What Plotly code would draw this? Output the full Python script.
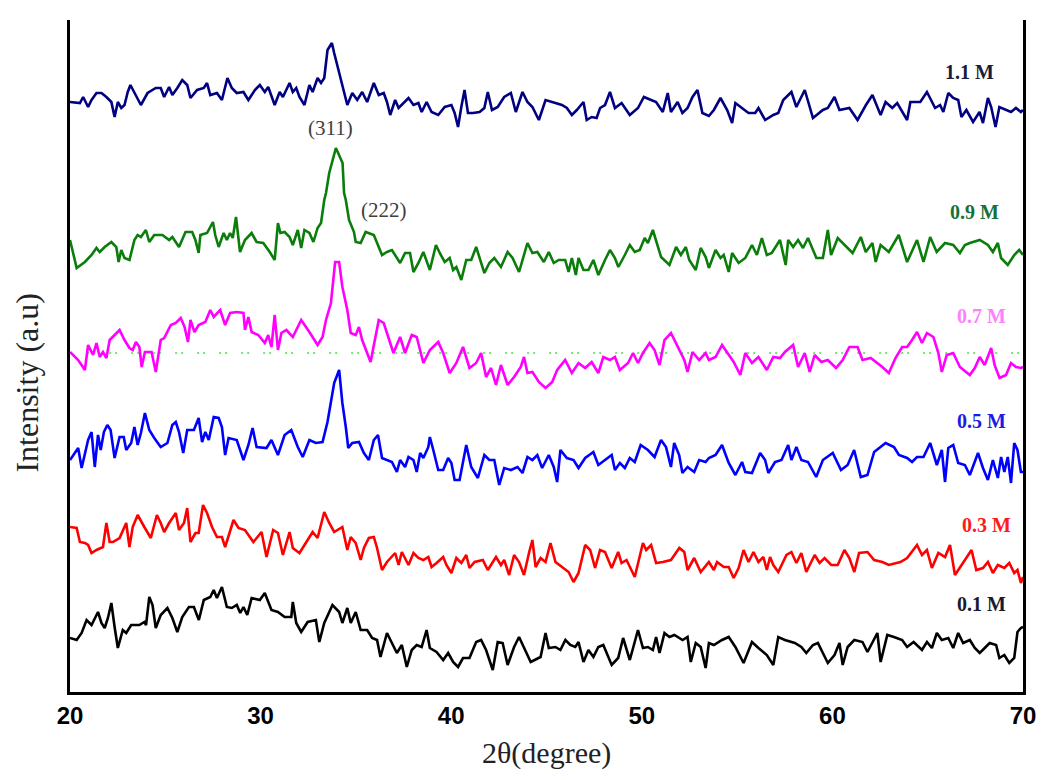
import plotly.graph_objects as go

# ---- data: (2theta, intensity a.u.) vertices ----
pattern_1_1M = [
(20.00,590),(20.52,589),(20.69,595),(20.95,585),(21.13,592),(21.39,599),(21.65,599),(21.91,595),(22.17,590),(22.34,575),(22.51,590),(22.69,584),(22.86,587),(23.03,600),(23.17,607),(23.38,599),(23.72,587),(24.07,599),(24.50,604),(24.76,604),(24.94,595),(25.20,605),(25.37,597),(25.63,604),(25.89,612),(26.15,607),(26.32,594),(26.67,602),(27.02,604),(27.19,609),(27.36,597),(27.71,599),(27.97,592),(28.26,614),(28.49,604),(28.75,599),(29.10,600),(29.36,592),(29.70,602),(29.96,607),(30.22,600),(30.40,605),(30.74,587),(31.00,600),(31.17,595),(31.52,609),(31.69,600),(31.87,604),(32.04,595),(32.30,587),(32.56,607),(32.73,600),(32.99,614),(33.17,609),(33.34,614),(33.51,642),(33.74,649),(33.86,639),(34.12,619),(34.38,599),(34.55,587),(34.81,599),(35.07,592),(35.33,600),(35.59,590),(35.94,609),(36.20,597),(36.46,599),
(36.63,590),(36.80,577),(37.06,592),(37.24,584),(37.41,587),(37.76,594),(38.02,587),(38.28,589),(38.45,580),(38.71,590),(38.97,580),(39.32,577),(39.66,585),(40.01,587),(40.18,579),(40.36,565),(40.53,585),(40.70,602),(40.88,579),(41.14,579),(41.49,580),(41.74,584),(41.92,600),(42.14,582),(42.44,585),(42.78,595),(43.13,599),(43.39,580),(43.74,600),(44.00,590),(44.26,585),(44.60,572),(44.95,592),(45.30,590),(45.81,587),(46.07,584),(46.33,577),(46.59,582),(46.94,590),(47.11,572),(47.37,575),(47.63,574),(47.81,584),(48.07,587),(48.33,600),(48.59,584),(48.94,589),(49.37,577),(49.80,584),(50.11,595),(50.49,592),(50.75,590),(51.10,580),(51.36,599),(51.53,580),(51.88,590),(52.13,579),(52.40,584),(52.66,595),(52.92,602),(53.18,579),
(53.52,576),(53.78,582),(54.13,594),(54.48,582),(54.74,569),(54.91,589),(55.26,584),(55.60,579),(55.95,579),(56.12,584),(56.47,572),(56.90,577),(57.16,579),(57.42,592),(57.85,600),(58.11,585),(58.55,602),(58.98,574),(59.50,582),(59.76,584),(60.11,595),(60.37,582),(60.89,584),(61.32,572),(61.76,587),(62.10,597),(62.53,577),(62.79,590),(63.14,584),(63.40,589),(63.92,572),(64.09,590),(64.61,590),(64.96,600),(65.39,584),(65.65,587),(65.82,580),(66.08,599),(66.34,594),(66.60,592),(66.77,575),(67.03,582),(67.38,570),(67.72,580),(67.90,569),(68.16,594),(68.33,585),(68.56,565),(68.76,585),(69.11,582),(69.37,580),(69.63,584),(69.89,580),(70.00,582)]

pattern_0_9M = [
(20.00,452),(20.35,424),(20.78,430),(21.13,437),(21.39,444),(21.56,440),(21.82,445),(22.17,450),(22.43,445),(22.55,430),(22.69,442),(22.86,434),(23.12,432),(23.38,452),(23.55,457),(23.72,455),(23.98,462),(24.16,450),(24.42,457),(24.85,457),(25.20,452),(25.37,455),(25.72,445),(26.06,460),(26.41,460),(26.58,452),(26.75,439),(26.84,457),(27.19,459),(27.50,470),(27.62,457),(27.80,445),(28.06,459),(28.23,452),(28.40,459),(28.54,454),(28.71,475),(28.84,455),(28.92,440),(29.18,452),(29.53,459),(29.79,450),(30.14,449),(30.48,440),(30.74,432),(30.91,469),(31.04,459),(31.26,460),(31.52,455),(31.69,447),(31.95,462),(32.13,444),(32.30,462),(32.56,459),(32.77,450),(32.99,464),(33.17,469),(33.34,492),(33.43,499),(33.60,519),(33.95,544),(34.30,529),(34.38,499),(34.47,492),(34.64,472),(34.90,460),(34.99,450),(35.25,449),(35.51,460),(35.94,457),(36.20,444),(36.37,437),
(36.63,440),(36.89,442),(37.32,429),(37.58,439),(37.84,439),(38.02,420),(38.28,429),(38.54,440),(38.88,422),(39.20,447),(39.40,439),(39.66,430),(39.92,434),(40.10,422),(40.27,425),(40.53,412),(40.79,432),(41.05,432),(41.31,445),(41.49,434),(41.74,419),(42.00,429),(42.26,434),(42.61,425),(42.96,440),(43.22,434),(43.56,420),(44.00,449),(44.26,439),(44.52,440),(44.86,430),(45.12,440),(45.38,429),(45.64,432),(45.98,432),(46.16,420),(46.33,434),(46.54,417),(46.68,434),(46.94,422),(47.20,422),(47.46,432),(47.72,417),(48.07,432),(48.33,442),(48.59,434),(48.77,425),(49.11,437),(49.37,447),(49.63,440),(49.89,442),(50.15,454),(50.32,449),(50.58,462),(50.75,452),(51.01,435),(51.45,427),(51.80,445),(52.05,437),(52.31,445),(52.49,432),(52.83,422),(53.09,444),(53.35,435),
(53.52,424),(53.87,442),(54.13,434),(54.30,437),(54.56,420),(54.74,439),(55.08,429),(55.43,434),(55.78,447),(56.04,437),(56.30,454),(56.56,437),(56.82,439),(57.25,452),(57.55,427),(57.68,452),(57.94,445),(58.20,452),(58.46,444),(58.72,454),(59.16,434),(59.50,434),(59.76,462),(59.93,437),(60.28,454),(60.63,447),(61.06,439),(61.49,455),(61.75,440),(62.10,449),(62.27,430),(62.53,447),(62.96,440),(63.48,457),(63.92,430),(64.44,452),(64.78,430),(65.13,455),(65.47,440),(65.91,449),(66.34,447),(66.69,439),(66.95,447),(67.21,449),(67.73,452),(68.16,447),(68.42,440),(68.68,449),(68.85,434),(69.20,427),(69.54,437),(69.80,442),(70.00,437)]

pattern_0_7M = [
(20.00,340),(20.43,332),(20.78,322),(20.95,347),(21.21,337),(21.39,349),(21.56,335),(21.73,340),(21.91,334),(22.08,352),(22.34,357),(22.60,362),(22.86,352),(23.12,344),(23.29,342),(23.46,350),(23.64,345),(23.76,325),(23.93,340),(24.28,340),(24.50,320),(24.76,352),(24.94,354),(25.29,367),(25.55,369),(25.81,374),(26.01,365),(26.19,350),(26.32,372),(26.53,360),(26.75,367),(27.10,370),(27.36,382),(27.54,375),(27.88,382),(28.14,367),(28.40,379),(28.75,380),(29.10,379),(29.18,362),(29.36,375),(29.53,360),(29.88,357),(30.22,349),(30.40,357),(30.57,345),(30.74,377),(30.91,342),(31.09,359),(31.35,362),(31.69,355),(32.13,372),(32.56,360),(32.99,347),(33.25,355),(33.43,372),(33.69,389),(33.91,430),(34.12,430),(34.29,405),(34.55,382),(34.73,359),(34.99,357),(35.16,365),(35.33,352),(35.77,330),(36.20,372),(36.46,369),
(36.63,359),(36.97,339),(37.32,355),(37.58,339),(37.93,357),(38.19,355),(38.54,329),(38.88,342),(39.32,350),(39.58,339),(39.92,319),(40.27,329),(40.62,345),(40.96,324),(41.31,329),(41.57,339),(41.83,315),(42.09,324),(42.35,307),(42.61,327),(42.96,307),(43.30,315),(43.65,325),(43.82,335),(44.00,319),(44.26,320),(44.60,310),(44.95,304),(45.30,310),(45.56,322),(45.98,332),(46.33,319),(46.68,329),(47.03,324),(47.37,330),(47.72,319),(47.98,335),(48.33,332),(48.59,335),(48.85,322),(49.28,329),(49.54,339),(49.80,329),(50.06,339),(50.41,349),(50.67,342),(50.93,327),(51.19,352),(51.53,359),(51.88,345),(52.23,332),(52.40,320),(52.66,340),(53.01,332),(53.35,339),
(53.52,332),(53.87,335),(54.21,347),(54.47,340),(54.82,330),(55.17,317),(55.43,339),(55.78,329),(56.12,335),(56.56,322),(56.90,335),(57.25,334),(57.51,340),(57.94,347),(58.20,325),(58.55,339),(58.81,320),(59.07,337),(59.42,330),(59.76,332),(60.19,324),(60.54,332),(60.89,345),(61.32,345),(61.58,332),(62.01,334),(62.36,329),(62.62,325),(62.96,319),(63.31,334),(63.66,345),(63.92,345),(64.18,352),(64.44,360),(64.70,349),(64.96,359),(65.30,355),(65.56,339),(65.74,320),(66.00,337),(66.34,339),(66.69,325),(67.21,317),(67.47,324),(67.73,335),(67.99,327),(68.33,344),(68.51,327),(68.77,314),(69.11,317),(69.37,329),(69.63,325),(69.89,324),(70.00,325)]

pattern_0_5M = [
(20.00,232),(20.26,240),(20.43,244),(20.61,224),(20.78,237),(20.95,252),(21.13,260),(21.30,225),(21.47,257),(21.61,242),(21.78,260),(21.96,267),(22.13,262),(22.34,234),(22.60,255),(22.82,255),(22.95,242),(23.21,249),(23.38,265),(23.55,247),(23.72,259),(23.93,279),(24.16,262),(24.42,254),(24.76,245),(25.11,249),(25.37,267),(25.55,270),(25.72,260),(25.94,239),(26.15,262),(26.50,262),(26.75,274),(26.93,250),(27.10,260),(27.28,252),(27.54,275),(27.80,274),(27.97,265),(28.14,237),(28.32,254),(28.75,252),(29.10,232),(29.36,247),(29.58,264),(29.79,245),(30.31,244),(30.57,252),(30.91,237),(31.26,257),(31.61,262),(31.95,245),(32.21,235),(32.56,252),(32.90,249),(33.25,250),(33.51,270),(33.86,309),(34.12,322),(34.29,289),(34.47,265),(34.60,244),(34.81,249),(35.16,250),(35.42,239),(35.68,232),(35.94,252),(36.16,257),(36.37,234),
(36.63,232),(36.89,230),(37.15,220),(37.32,232),(37.58,225),(37.76,235),(38.02,232),(38.19,220),(38.37,239),(38.54,234),(38.80,245),(38.88,255),(39.06,242),(39.32,222),(39.58,222),(39.84,234),(40.01,229),(40.18,212),(40.44,212),(40.79,247),(41.05,225),(41.40,214),(41.74,237),(42.00,232),(42.26,232),(42.52,207),(42.78,224),(43.13,222),(43.48,225),(43.74,219),(44.00,235),(44.26,232),(44.52,237),(44.77,224),(45.12,237),(45.38,225),(45.56,210),(45.73,242),(46.07,234),(46.42,232),(46.68,224),(47.03,234),(47.46,240),(47.72,227),(48.07,232),(48.42,237),(48.59,222),(48.85,229),(49.11,224),(49.37,234),(49.63,230),(49.94,247),(50.32,242),(50.67,235),(51.01,252),(51.27,245),(51.53,225),(51.70,249),(51.96,237),(52.13,219),(52.40,225),(52.75,220),(53.01,232),(53.35,230),
(53.52,234),(53.87,237),(54.21,247),(54.56,229),(54.91,217),(55.26,230),(55.43,220),(55.78,219),(56.21,239),(56.47,232),(56.64,219),(56.99,230),(57.33,232),(57.68,247),(57.85,232),(58.11,245),(58.37,232),(58.72,230),(59.15,215),(59.50,232),(60.02,239),(60.45,222),(60.80,227),(61.14,242),(61.49,215),(61.84,217),(62.19,240),(62.53,245),(62.79,249),(63.23,245),(63.49,237),(63.92,234),(64.18,230),(64.44,235),(64.78,235),(65.13,249),(65.48,227),(65.74,242),(65.91,210),(66.08,244),(66.34,247),(66.60,229),(66.95,227),(67.21,217),(67.64,239),(67.90,224),(68.16,212),(68.42,232),(68.68,214),(68.85,235),(69.02,220),(69.20,235),(69.37,209),(69.54,249),(69.71,242),(69.89,220),(70.00,220)]

pattern_0_3M = [
(20.00,165),(20.35,164),(20.52,150),(20.78,149),(20.95,147),(21.13,139),(21.39,142),(21.73,145),(21.91,169),(22.08,150),(22.25,150),(22.60,154),(22.95,169),(23.12,145),(23.29,165),(23.55,177),(23.90,165),(24.24,154),(24.56,177),(24.76,169),(24.94,160),(25.20,169),(25.55,179),(25.72,162),(25.98,169),(26.15,184),(26.32,150),(26.58,159),(26.75,159),(26.98,187),(27.19,179),(27.45,165),(27.71,155),(27.97,155),(28.14,145),(28.58,172),(28.84,164),(29.18,162),(29.62,150),(30.05,160),(30.31,135),(30.66,162),(30.91,159),(31.17,137),(31.52,160),(31.69,144),(32.04,139),(32.73,160),(32.99,154),(33.34,180),(33.60,169),(33.86,160),(34.29,165),(34.55,142),(34.73,155),(34.99,149),(35.25,132),(35.42,144),(35.68,154),(35.94,155),(36.11,144),(36.37,122),
(36.63,130),(36.89,135),(37.06,139),(37.24,127),(37.41,140),(37.76,127),(38.02,139),(38.28,134),(38.54,132),(38.80,135),(38.97,125),(39.23,129),(39.58,135),(39.75,127),(40.01,119),(40.27,134),(40.53,129),(40.79,137),(40.96,124),(41.23,130),(41.66,132),(41.92,122),(42.35,135),(42.61,127),(42.78,132),(43.04,117),(43.30,137),(43.56,130),(43.82,117),(44.08,139),(44.26,152),(44.43,125),(44.69,134),(44.95,130),(45.21,149),(45.47,130),(45.82,125),(46.16,120),(46.42,110),(46.68,119),(47.03,147),(47.29,142),(47.55,124),(47.81,142),(48.07,140),(48.42,124),(48.76,140),(48.94,129),(49.20,132),(49.63,115),(50.06,149),(50.23,142),(50.49,147),(50.75,129),(51.10,130),(51.53,132),(51.97,144),(52.23,140),(52.40,122),(52.75,134),(53.09,120),
(53.52,130),(53.78,122),(53.95,130),(54.30,125),(54.56,125),(54.82,114),(55.08,124),(55.34,142),(55.60,130),(55.86,140),(56.12,130),(56.38,135),(56.56,122),(56.73,135),(56.90,127),(57.16,120),(57.59,137),(57.85,140),(58.11,129),(58.37,139),(58.63,120),(59.07,137),(59.33,129),(59.59,134),(59.94,127),(60.28,127),(60.63,142),(60.89,134),(61.15,120),(61.40,139),(61.84,140),(62.19,132),(62.62,130),(62.96,127),(63.57,130),(63.92,134),(64.26,142),(64.44,147),(64.70,137),(64.96,142),(65.22,124),(65.56,139),(65.91,135),(66.17,147),(66.43,117),(66.86,130),(67.30,142),(67.55,122),(67.90,124),(68.16,130),(68.42,119),(68.68,127),(69.02,124),(69.28,129),(69.54,119),(69.71,122),(69.89,109),(70.00,115)]

pattern_0_1M = [
(20.00,54),(20.35,52),(20.61,59),(20.87,72),(21.13,67),(21.47,80),(21.65,69),(21.82,64),(21.99,74),(22.17,89),(22.34,65),(22.51,44),(22.77,62),(22.95,59),(23.21,67),(23.64,67),(23.90,70),(23.99,67),(24.16,95),(24.33,87),(24.50,64),(24.76,77),(25.11,84),(25.37,74),(25.63,60),(25.89,75),(26.24,85),(26.50,85),(26.76,72),(27.02,92),(27.36,95),(27.54,102),(27.71,94),(27.97,105),(28.23,85),(28.49,84),(28.75,87),(28.93,79),(29.10,85),(29.30,77),(29.53,94),(29.96,92),(30.22,99),(30.57,82),(30.91,80),(31.26,75),(31.61,75),(31.69,90),(31.87,69),(32.13,60),(32.47,70),(32.90,72),(33.08,50),(33.34,69),(33.77,87),(34.12,80),(34.29,69),(34.55,84),(34.73,69),(34.99,80),(35.25,62),(35.59,62),(35.85,54),(36.11,52),(36.29,35),(36.46,47),
(36.63,59),(36.89,49),(37.15,39),(37.41,47),(37.67,25),(37.93,42),(38.19,47),(38.45,45),(38.71,62),(38.88,44),(39.23,40),(39.58,32),(39.84,39),(40.10,30),(40.36,25),(40.62,34),(40.96,34),(41.31,50),(41.57,52),(41.83,42),(42.18,22),(42.44,50),(42.70,49),(42.96,27),(43.30,45),(43.56,55),(43.82,45),(44.17,30),(44.69,35),(44.95,59),(45.12,44),(45.47,45),(45.73,42),(45.99,52),(46.25,47),(46.51,45),(46.68,50),(46.94,30),(47.20,42),(47.46,35),(47.72,45),(47.98,47),(48.42,27),(48.76,34),(49.02,54),(49.37,32),(49.80,62),(50.06,44),(50.32,45),(50.58,42),(50.75,55),(50.93,39),(51.19,59),(51.45,55),(51.71,57),(52.14,52),(52.40,55),(52.57,30),(52.83,49),(53.09,45),(53.35,24),
(53.52,49),(53.78,47),(54.21,52),(54.56,55),(54.91,45),(55.34,29),(55.78,50),(56.12,44),(56.56,37),(56.90,27),(57.16,55),(57.51,52),(58.03,49),(58.37,45),(58.63,39),(58.98,47),(59.24,49),(59.50,39),(59.76,29),(60.11,37),(60.37,49),(60.54,27),(60.80,45),(61.15,52),(61.58,50),(61.84,40),(62.36,59),(62.53,30),(62.88,57),(63.23,55),(63.66,52),(63.92,45),(64.26,50),(64.70,42),(64.96,50),(65.22,44),(65.48,59),(65.74,52),(66.08,54),(66.34,44),(66.60,59),(66.86,49),(67.21,52),(67.47,44),(67.73,39),(67.99,44),(68.25,49),(68.59,47),(68.76,34),(69.02,37),(69.28,29),(69.54,34),(69.71,60),(69.89,64),(70.00,65)]

baseline_theta = [20.9, 69.9]
baseline_level = [339, 339]

series_names = ["1.1 M", "0.9 M", "0.7 M", "0.5 M", "0.3 M", "0.1 M"]
series_data = [pattern_1_1M, pattern_0_9M, pattern_0_7M, pattern_0_5M, pattern_0_3M, pattern_0_1M]
line_colors = ["#000080", "#0a7d0a", "#ff00ff", "#0000ff", "#ff0000", "#000000"]
label_colors = ["#1b1b3a", "#17703a", "#ff80ff", "#1c1ce6", "#ff1a1a", "#1a1a2a"]
label_theta = [67.2, 67.45, 67.8, 67.8, 68.1, 67.8]
label_level = [620, 480, 376, 271, 167, 88]

hkl_labels = ["(311)", "(222)"]
hkl_theta = [33.67, 36.48]
hkl_level = [564, 482]

tick_vals = [20, 30, 40, 50, 60, 70]

fig = go.Figure()

fig.add_trace(go.Scatter(x=baseline_theta, y=baseline_level, mode="lines",
                         line=dict(color="#44dd44", width=1.5, dash="2px,4px,2px,14px"),
                         showlegend=False, hoverinfo="skip"))

for name, data, col in zip(series_names, series_data, line_colors):
    xs = [p[0] for p in data]
    ys = [p[1] for p in data]
    fig.add_trace(go.Scatter(x=xs, y=ys, mode="lines", name=name,
                             line=dict(color=col, width=2.6), showlegend=False))

for name, tx, ty, col in zip(series_names, label_theta, label_level, label_colors):
    fig.add_annotation(x=tx, y=ty, xref="x", yref="y", text=name, showarrow=False,
                       font=dict(family="Liberation Serif, Times New Roman, serif",
                                 size=20, color=col, weight="bold"))

for lab, tx, ty in zip(hkl_labels, hkl_theta, hkl_level):
    fig.add_annotation(x=tx, y=ty, xref="x", yref="y", text=lab, showarrow=False,
                       font=dict(family="Liberation Serif, Times New Roman, serif",
                                 size=21, color="#404040"))

# axis titles
fig.add_annotation(x=0.5, y=-0.0908, xref="paper", yref="paper", text="2θ(degree)",
                   showarrow=False, yanchor="middle",
                   font=dict(family="Liberation Serif, Times New Roman, serif", size=30, color="#222222"))
fig.add_annotation(x=-0.0447, y=0.461, xref="paper", yref="paper", text="Intensity (a.u)",
                   showarrow=False, textangle=-90, xanchor="center", yanchor="middle",
                   font=dict(family="Liberation Serif, Times New Roman, serif", size=32, color="#222222"))

# page body has an 8px default margin, so the figure is kept smaller than the window
fig.update_layout(
    width=1040, height=762,
    margin=dict(l=62, r=16, t=12, b=78),
    paper_bgcolor="white", plot_bgcolor="white",
    xaxis=dict(range=[20, 70], tickvals=tick_vals, ticktext=[str(v) for v in tick_vals],
               showline=True, linewidth=3, linecolor="black", mirror=False,
               ticks="", showgrid=False, zeroline=False,
               tickfont=dict(family="Liberation Sans, Arial, sans-serif", size=24,
                             color="black", weight="bold")),
    yaxis=dict(range=[0, 672], showline=True, linewidth=3, linecolor="black", mirror=True,
               ticks="", showticklabels=False, showgrid=False, zeroline=False),
)

fig.write_html("out.html")
